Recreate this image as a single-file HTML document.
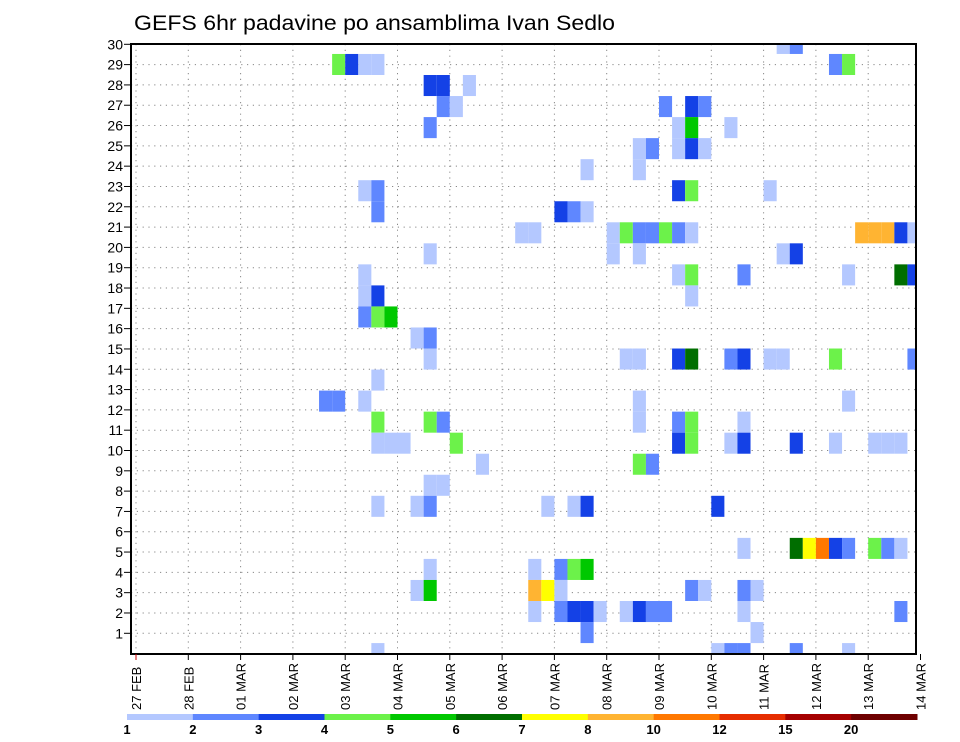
<!DOCTYPE html>
<html><head><meta charset="utf-8"><style>
html,body{margin:0;padding:0;background:#fff;}
svg{display:block;font-family:"Liberation Sans",sans-serif;}
</style></head><body>
<svg id="chart" width="960" height="742" viewBox="0 0 960 742" xmlns="http://www.w3.org/2000/svg">
<text x="134" y="30" font-size="21" textLength="481" lengthAdjust="spacingAndGlyphs">GEFS 6hr padavine po ansamblima Ivan Sedlo</text>
<g id="grid"></g>
<g id="cells"></g>
<rect x="131" y="44" width="785" height="610" fill="none" stroke="#000" stroke-width="2"/>
<g id="yaxis"></g>
<g id="xaxis"></g>
<g id="cbar"></g>
</svg>
<script>
// time step index (6h steps from 27 FEB 00z), ensemble member, precipitation value (mm)
const cellStep = [49,50, 15,16,17,18,53,54, 22,23,25, 23,24,40,42,43, 22,41,42,45, 38,39,41,42,43, 34,38, 17,18,41,42,48, 18,32,33,34, 29,30,36,37,38,39,40,41,42,55,56,57,58,59, 22,36,38,49,50, 17,41,42,46,54,58,59, 17,18,42, 17,18,19, 21,22, 22,37,38,41,42,45,46,48,49,53,59, 18, 14,15,17,38,54, 18,22,23,38,41,42,46, 18,19,20,24,41,42,45,46,50,53,56,57,58, 26,38,39, 22,23, 18,21,22,31,33,34,44, 46,50,51,52,53,54,56,57,58, 22,30,32,33,34, 21,22,30,31,32,42,43,46,47, 30,32,33,34,35,37,38,39,40,46,58, 34,47, 18,44,45,46,50,54];
const cellMember = [29,29, 28,28,28,28,28,28, 27,27,27, 26,26,26,26,26, 25,25,25,25, 24,24,24,24,24, 23,23, 22,22,22,22,22, 21,21,21,21, 20,20,20,20,20,20,20,20,20,20,20,20,20,20, 19,19,19,19,19, 18,18,18,18,18,18,18, 17,17,17, 16,16,16, 15,15, 14,14,14,14,14,14,14,14,14,14,14, 13, 12,12,12,12,12, 11,11,11,11,11,11,11, 10,10,10,10,10,10,10,10,10,10,10,10,10, 9,9,9, 8,8, 7,7,7,7,7,7,7, 5,5,5,5,5,5,5,5,5, 4,4,4,4,4, 3,3,3,3,3,3,3,3,3, 2,2,2,2,2,2,2,2,2,2,2, 1,1, 0,0,0,0,0,0];
const cellValue = [1.5,2.5, 4.5,3.5,1.5,1.5,2.5,4.5, 3.5,3.5,1.5, 2.5,1.5,2.5,3.5,2.5, 2.5,1.5,5.5,1.5, 1.5,2.5,1.5,3.5,1.5, 1.5,1.5, 1.5,2.5,3.5,4.5,1.5, 2.5,3.5,2.5,1.5, 1.5,1.5,1.5,4.5,2.5,2.5,4.5,2.5,1.5,9,9,9,3.5,1.5, 1.5,1.5,1.5,1.5,3.5, 1.5,1.5,4.5,2.5,1.5,6.5,3.5, 1.5,3.5,1.5, 2.5,4.5,5.5, 1.5,2.5, 1.5,1.5,1.5,3.5,6.5,2.5,3.5,1.5,1.5,4.5,2.5, 1.5, 2.5,2.5,1.5,1.5,1.5, 4.5,4.5,2.5,1.5,2.5,4.5,1.5, 1.5,1.5,1.5,4.5,3.5,4.5,1.5,3.5,3.5,1.5,1.5,1.5,1.5, 1.5,4.5,2.5, 1.5,1.5, 1.5,1.5,2.5,1.5,1.5,3.5,3.5, 1.5,6.5,7.5,11,3.5,2.5,4.5,2.5,1.5, 1.5,1.5,2.5,4.5,5.5, 1.5,5.5,9,7.5,1.5,2.5,1.5,2.5,1.5, 1.5,2.5,3.5,3.5,1.5,1.5,3.5,2.5,2.5,1.5,2.5, 2.5,1.5, 1.5,1.5,2.5,2.5,2.5,1.5];
const levels = [1,2,3,4,5,6,7,8,10,12,15,20];
const levelColors = ["#b4c8ff","#5f87ff","#1441e6","#6cf24a","#00c800","#006e00","#ffff00","#ffb432","#ff7800","#e62d00","#a50000","#6e0000"];
const dayLabels = ["27 FEB","28 FEB","01 MAR","02 MAR","03 MAR","04 MAR","05 MAR","06 MAR","07 MAR","08 MAR","09 MAR","10 MAR","11 MAR","12 MAR","13 MAR","14 MAR"];
const yTicks = [1,2,3,4,5,6,7,8,9,10,11,12,13,14,15,16,17,18,19,20,21,22,23,24,25,26,27,28,29,30];

const NS = "http://www.w3.org/2000/svg";
const L = 131, R = 916, T = 44, B = 654;
const X0 = 136, DAY = 52.3, STEP = DAY / 4;
const ROWH = 21.04, LABH = 20.31;
const xDay = d => X0 + d * DAY;
const xStep = k => X0 + k * STEP;
const yMember = m => 653.6 - m * ROWH;
const yLabel = n => 653.6 - n * LABH;
function colorFor(v){ let c = levelColors[0]; for (let i=0;i<levels.length;i++){ if (v >= levels[i]) c = levelColors[i]; } return c; }
function mk(tag, attrs, parent){ const e = document.createElementNS(NS, tag); for (const a in attrs) e.setAttribute(a, attrs[a]); parent.appendChild(e); return e; }

const grid = document.getElementById('grid');
dayLabels.forEach((lab, d) => {
  const x = xDay(d); if (x > R) return;
  const ln = mk('line', {x1:x, x2:x, y1:T, y2:B, stroke:'#888', 'stroke-width':1, 'stroke-dasharray':'1.2,4.6'}, grid);
  
  
});
yTicks.forEach(n => {
  const y = yLabel(n);
  const ln = mk('line', {x1:L, x2:R, y1:y, y2:y, stroke:'#888', 'stroke-width':1, 'stroke-dasharray':'1.2,4.6'}, grid);
  
  
});

const cells = document.getElementById('cells');
for (let i = 0; i < cellStep.length; i++) {
  let x1 = xStep(cellStep[i]), x2 = xStep(cellStep[i] + 1);
  let yc = yMember(cellMember[i]);
  let y1 = yc - ROWH/2, y2 = yc + ROWH/2;
  x1 = Math.max(x1, L); x2 = Math.min(x2, R); y1 = Math.max(y1, T); y2 = Math.min(y2, B);
  if (x2 <= x1 || y2 <= y1) continue;
  const r = mk('rect', {x:x1, y:y1, width:x2-x1, height:y2-y1, fill:colorFor(cellValue[i])}, cells);
  
  
}

const yaxis = document.getElementById('yaxis');
yTicks.forEach(n => {
  const y = yLabel(n);
  const t = mk('line', {x1:124, x2:L, y1:y, y2:y, stroke:'#000', 'stroke-width':1}, yaxis);
  
  
  const tx = mk('text', {x:123, y:y+5, 'font-size':14, 'text-anchor':'end'}, yaxis);
  tx.textContent = n;
  
  
});

const xaxis = document.getElementById('xaxis');
dayLabels.forEach((lab, d) => {
  const x = xDay(d);
  const t = mk('line', {x1:x, x2:x, y1:B, y2:B+6, stroke: d===0 ? '#c00' : '#000', 'stroke-width':1}, xaxis);
  
  
  const tx = mk('text', {x:0, y:0, 'font-size':13, transform:'translate('+(x+5)+',710) rotate(-90)', 'xml:space':'preserve'}, xaxis);
  tx.textContent = lab.replace(' ', '  ');
  
  
});

const cbar = document.getElementById('cbar');
const CB0 = 127, CBW = (917 - 127) / levels.length;
levels.forEach((lv, i) => {
  const r = mk('rect', {x:CB0 + i*CBW, y:714, width:CBW+0.5, height:6, fill:levelColors[i]}, cbar);
  
  
  const tx = mk('text', {x:CB0 + i*CBW, y:734, 'font-size':13, 'font-weight':'bold', 'text-anchor':'middle'}, cbar);
  tx.textContent = lv;
  
  
});
</script>
</body></html>
